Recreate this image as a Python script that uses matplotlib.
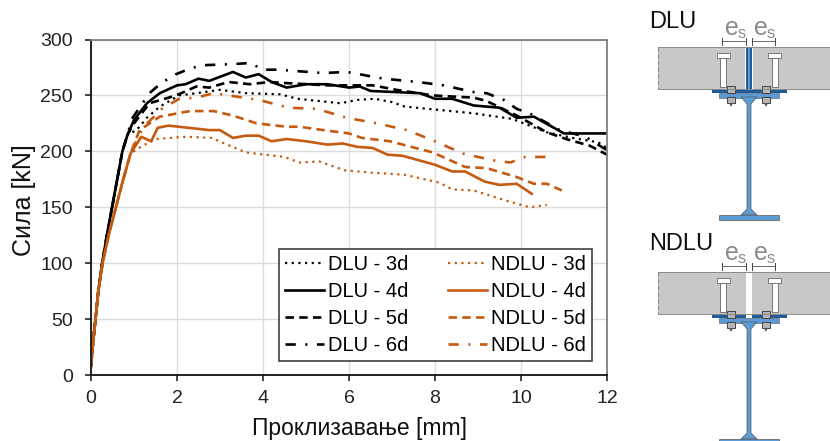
import matplotlib.pyplot as plt
from matplotlib.patches import Rectangle, Polygon

plt.rcParams['font.family'] = ['Liberation Sans', 'DejaVu Sans']

# vrednosti ocitane sa slike
rise_d_x = [0, 0.05, 0.105, 0.17, 0.26, 0.37, 0.49, 0.61, 0.73, 0.85]
rise_d_y = [8, 30, 50, 75, 100, 125, 150, 175, 200, 215]
rise_n_x = [0, 0.05, 0.105, 0.17, 0.27, 0.41, 0.58, 0.75, 0.92]
rise_n_y = [8, 30, 50, 75, 100, 125, 150, 175, 198]

dlu3_x = rise_d_x + [1.06, 1.3, 1.6, 2.05, 2.45, 3.0, 3.6, 4.4, 4.8, 5.8, 6.2, 6.6, 7.0, 7.3, 8.1, 8.9, 9.8, 10.6, 11.2, 11.8, 12]
dlu3_y = rise_d_y + [219, 230, 240, 250, 252, 255, 252, 251, 247, 243, 246, 247, 244, 240, 237, 234, 229, 217, 212, 208, 203]
dlu4_x = rise_d_x + [1.0, 1.3, 1.6, 2.0, 2.2, 2.5, 2.75, 3.3, 3.6, 3.9, 4.2, 4.55, 5.0, 5.5, 6, 6.25, 6.5, 7.65, 8, 8.4, 8.9, 9.5, 9.9, 10.3, 11, 12]
dlu4_y = rise_d_y + [228, 243, 252, 259, 260, 265, 263, 271, 266, 269, 262, 257, 260, 260, 257, 258, 254, 252, 247, 247, 241, 239, 230, 231, 216, 216]
dlu5_x = rise_d_x + [1.0, 1.36, 1.98, 2.45, 2.75, 3.2, 3.7, 4.15, 4.55, 5.5, 6.55, 7.1, 7.95, 8.9, 9.2, 9.9, 10.6, 11.05, 11.6, 12]
dlu5_y = rise_d_y + [225, 243, 250, 258, 257, 262, 260, 262, 261, 259, 259, 255, 250, 248, 245, 232, 217, 211, 205, 197]
dlu6_x = rise_d_x + [0.95, 1.36, 1.63, 1.98, 2.3, 2.6, 3.3, 3.7, 4.0, 4.35, 4.7, 5.4, 5.95, 6.8, 7.6, 8.2, 8.9, 9.2, 9.6, 9.9, 10.2, 10.9, 11.5, 12]
dlu6_y = rise_d_y + [229, 252, 261, 269, 274, 277, 278, 279, 273, 273, 272, 270, 271, 265, 262, 259, 253, 252, 246, 238, 234, 219, 213, 201]

ndlu3_x = rise_n_x + [1.2, 1.5, 2.2, 2.8, 3.6, 4.5, 4.85, 5.3, 5.9, 6.5, 7.3, 8.1, 8.4, 8.9, 9.65, 10.2, 10.6]
ndlu3_y = rise_n_y + [205, 211, 213, 212, 199, 195, 190, 191, 183, 181, 179, 172, 166, 165, 156, 150, 152]
ndlu4_x = rise_n_x + [1.17, 1.4, 1.55, 1.8, 2.75, 3.0, 3.3, 3.6, 3.9, 4.2, 4.55, 5.0, 5.5, 5.85, 6.2, 6.55, 6.9, 7.25, 8.0, 8.4, 8.7, 9.15, 9.5, 9.9, 10.25]
ndlu4_y = rise_n_y + [213, 209, 221, 223, 219, 219, 212, 214, 214, 209, 211, 209, 206, 207, 204, 203, 197, 196, 188, 182, 182, 173, 170, 171, 162]
ndlu5_x = rise_n_x + [1.13, 1.6, 2.3, 2.85, 3.3, 3.85, 4.55, 4.85, 5.4, 6, 6.3, 6.95, 7.95, 8.7, 9.2, 9.9, 10.3, 10.6, 10.95]
ndlu5_y = rise_n_y + [219, 231, 236, 236, 232, 225, 222, 222, 219, 216, 212, 209, 199, 186, 185, 177, 171, 171, 165]
ndlu6_x = rise_n_x + [1.2, 1.65, 2.05, 2.45, 2.85, 3.2, 3.9, 4.6, 5.25, 5.95, 6.65, 7.35, 8, 8.65, 9.35, 9.75, 10.1, 10.65]
ndlu6_y = rise_n_y + [221, 238, 247, 248, 252, 250, 246, 239, 238, 230, 225, 219, 209, 198, 192, 190, 195, 195]

crna = '#000000'
narandzasta = '#c55a11'
stil_3d = (0, (1, 2))
stil_5d = (0, (3.2, 2))
stil_6d = (0, (3.9, 3.6, 0.8, 3.6))

fig = plt.figure(figsize=(8.3, 4.41), dpi=100)
ax = fig.add_axes([91 / 830, 1 - 375 / 441, (607 - 91) / 830, (375 - 39.5) / 441])

ax.plot(dlu3_x, dlu3_y, color=crna, lw=1.6, ls=stil_3d, label='DLU - 3d')
ax.plot(dlu4_x, dlu4_y, color=crna, lw=1.9, label='DLU - 4d')
ax.plot(dlu5_x, dlu5_y, color=crna, lw=1.9, ls=stil_5d, label='DLU - 5d')
ax.plot(dlu6_x, dlu6_y, color=crna, lw=1.9, ls=stil_6d, label='DLU - 6d')
ax.plot(ndlu3_x, ndlu3_y, color=narandzasta, lw=1.6, ls=stil_3d, label='NDLU - 3d')
ax.plot(ndlu4_x, ndlu4_y, color=narandzasta, lw=1.9, label='NDLU - 4d')
ax.plot(ndlu5_x, ndlu5_y, color=narandzasta, lw=1.9, ls=stil_5d, label='NDLU - 5d')
ax.plot(ndlu6_x, ndlu6_y, color=narandzasta, lw=1.9, ls=stil_6d, label='NDLU - 6d')

ax.set_xlim(0, 12)
ax.set_ylim(0, 300)
ax.set_xticks(range(0, 13, 2))
ax.set_yticks(range(0, 301, 50))
ax.grid(True, color='#dcdcdc', lw=1.0)
ax.set_axisbelow(True)
ax.tick_params(labelsize=14, length=4.3, width=1.2, color='#222222', labelcolor='#222222')
ax.tick_params(axis='x', pad=6.5)
ax.tick_params(axis='y', pad=8.7)
ax.set_xlabel('Проклизавање [mm]', fontsize=16.5, labelpad=7, color='#111111')
ax.xaxis.label.set_x(0.52)
ax.set_ylabel('Сила [kN]', fontsize=18, labelpad=3, color='#111111')
ax.yaxis.label.set_y(0.5216)
for strana in ['left', 'bottom']:
    ax.spines[strana].set_color('#111111')
    ax.spines[strana].set_linewidth(1.3)
for strana in ['top', 'right']:
    ax.spines[strana].set_color('#7f7f7f')
    ax.spines[strana].set_linewidth(1.3)

leg = ax.legend(ncol=2, loc='lower left', bbox_to_anchor=(279 / 830, 1 - 361 / 441),
                bbox_transform=fig.transFigure, fontsize=14.5,
                fancybox=False, framealpha=1, edgecolor='#404040', handlelength=1.95,
                handletextpad=0.2, columnspacing=1.95, labelspacing=0.4, borderpad=0.3,
                borderaxespad=0)
leg.get_frame().set_linewidth(1.2)

# presek veze, crtan u pikselima slike
sk = fig.add_axes([0, 0, 1, 1], zorder=5)
sk.set_xlim(0, 830)
sk.set_ylim(441, 0)
sk.axis('off')
sk.patch.set_alpha(0)


def mozdanik(x, dy):
    sk.add_patch(Rectangle((x - 3, 58 + dy), 6, 29, fc='white', ec='#777777', lw=0.7))
    sk.add_patch(Rectangle((x - 6.5, 53 + dy), 13, 5, fc='white', ec='#777777', lw=0.7))


def zavrtanj(x, dy):
    sk.add_patch(Rectangle((x - 4, 86 + dy), 8, 7, fc='#b5b5b5', ec='#444444', lw=0.7))
    sk.add_patch(Rectangle((x - 4, 97 + dy), 8, 6, fc='#b5b5b5', ec='#444444', lw=0.7))
    sk.add_patch(Polygon([(x - 2, 103 + dy), (x + 2, 103 + dy), (x, 107 + dy)], fc='#555555', ec='none'))


def presek(dy, naziv, dupli, dno, y_naziv):
    plava = '#5b9bd5'
    tamna = '#1f5c99'
    sk.text(649, y_naziv, naziv, fontsize=17, va='center', color='#111111')
    # ploca
    sk.add_patch(Rectangle((658, 47 + dy), 172, 42, fc='#c8c8c8', ec='none'))
    sk.plot([658, 830], [47 + dy, 47 + dy], color='#8a8a8a', lw=0.7)
    sk.plot([658, 830], [89 + dy, 89 + dy], color='#8a8a8a', lw=0.7)
    sk.plot([657.5, 657.5], [47 + dy, 89 + dy], color='#8a8a8a', lw=0.8, ls=(0, (4, 2)))
    if dupli:
        sk.add_patch(Rectangle((745, 47 + dy), 8, 42, fc='white', ec='none'))
        sk.add_patch(Rectangle((746, 47 + dy), 2, 42, fc=tamna, ec='none'))
        sk.add_patch(Rectangle((750, 47 + dy), 2, 42, fc=tamna, ec='none'))
        sk.add_patch(Rectangle((748, 47 + dy), 2, 42, fc=plava, ec='none'))
    else:
        sk.add_patch(Rectangle((746, 47 + dy), 6, 45, fc='white', ec='none'))
    # celicni profil
    sk.add_patch(Rectangle((719, 93 + dy), 60, 4.5, fc=plava, ec='#555555', lw=0.4))
    sk.add_patch(Polygon([(741, 97 + dy), (757, 97 + dy), (751, 104 + dy), (751, dno - 11),
                          (757, dno - 5), (741, dno - 5), (747, dno - 11), (747, 104 + dy)],
                         fc=plava, ec='#555555', lw=0.5))
    sk.add_patch(Rectangle((719, dno - 5), 60, 5, fc=plava, ec='#555555', lw=0.5))
    # podvlaka
    if dupli:
        sk.add_patch(Rectangle((712, 89 + dy), 75, 3.5, fc=tamna, ec='none'))
    else:
        sk.add_patch(Rectangle((712, 89 + dy), 34, 3.5, fc=tamna, ec='none'))
        sk.add_patch(Rectangle((752, 89 + dy), 35, 3.5, fc=tamna, ec='none'))
    for x in [723, 774.5]:
        mozdanik(x, dy)
    for x in [731, 766]:
        zavrtanj(x, dy)
    # kote
    sk.plot([722, 746], [41 + dy, 41 + dy], color='#555555', lw=0.6)
    sk.plot([752, 775], [41 + dy, 41 + dy], color='#555555', lw=0.6)
    for x in [722, 746, 752, 775]:
        sk.plot([x, x], [38 + dy, 45 + dy], color='#444444', lw=0.7)
    sk.text(725, 40 + dy, 'e', fontsize=18, color='#8c8c8c', va='bottom', ha='left')
    sk.text(738, 41 + dy, 's', fontsize=12, color='#8c8c8c', va='bottom', ha='left')
    sk.text(754, 40 + dy, 'e', fontsize=18, color='#8c8c8c', va='bottom', ha='left')
    sk.text(767, 41 + dy, 's', fontsize=12, color='#8c8c8c', va='bottom', ha='left')


presek(0, 'DLU', True, 220, 22)
presek(225, 'NDLU', False, 444, 244)

fig.savefig('out.png', dpi=100)
